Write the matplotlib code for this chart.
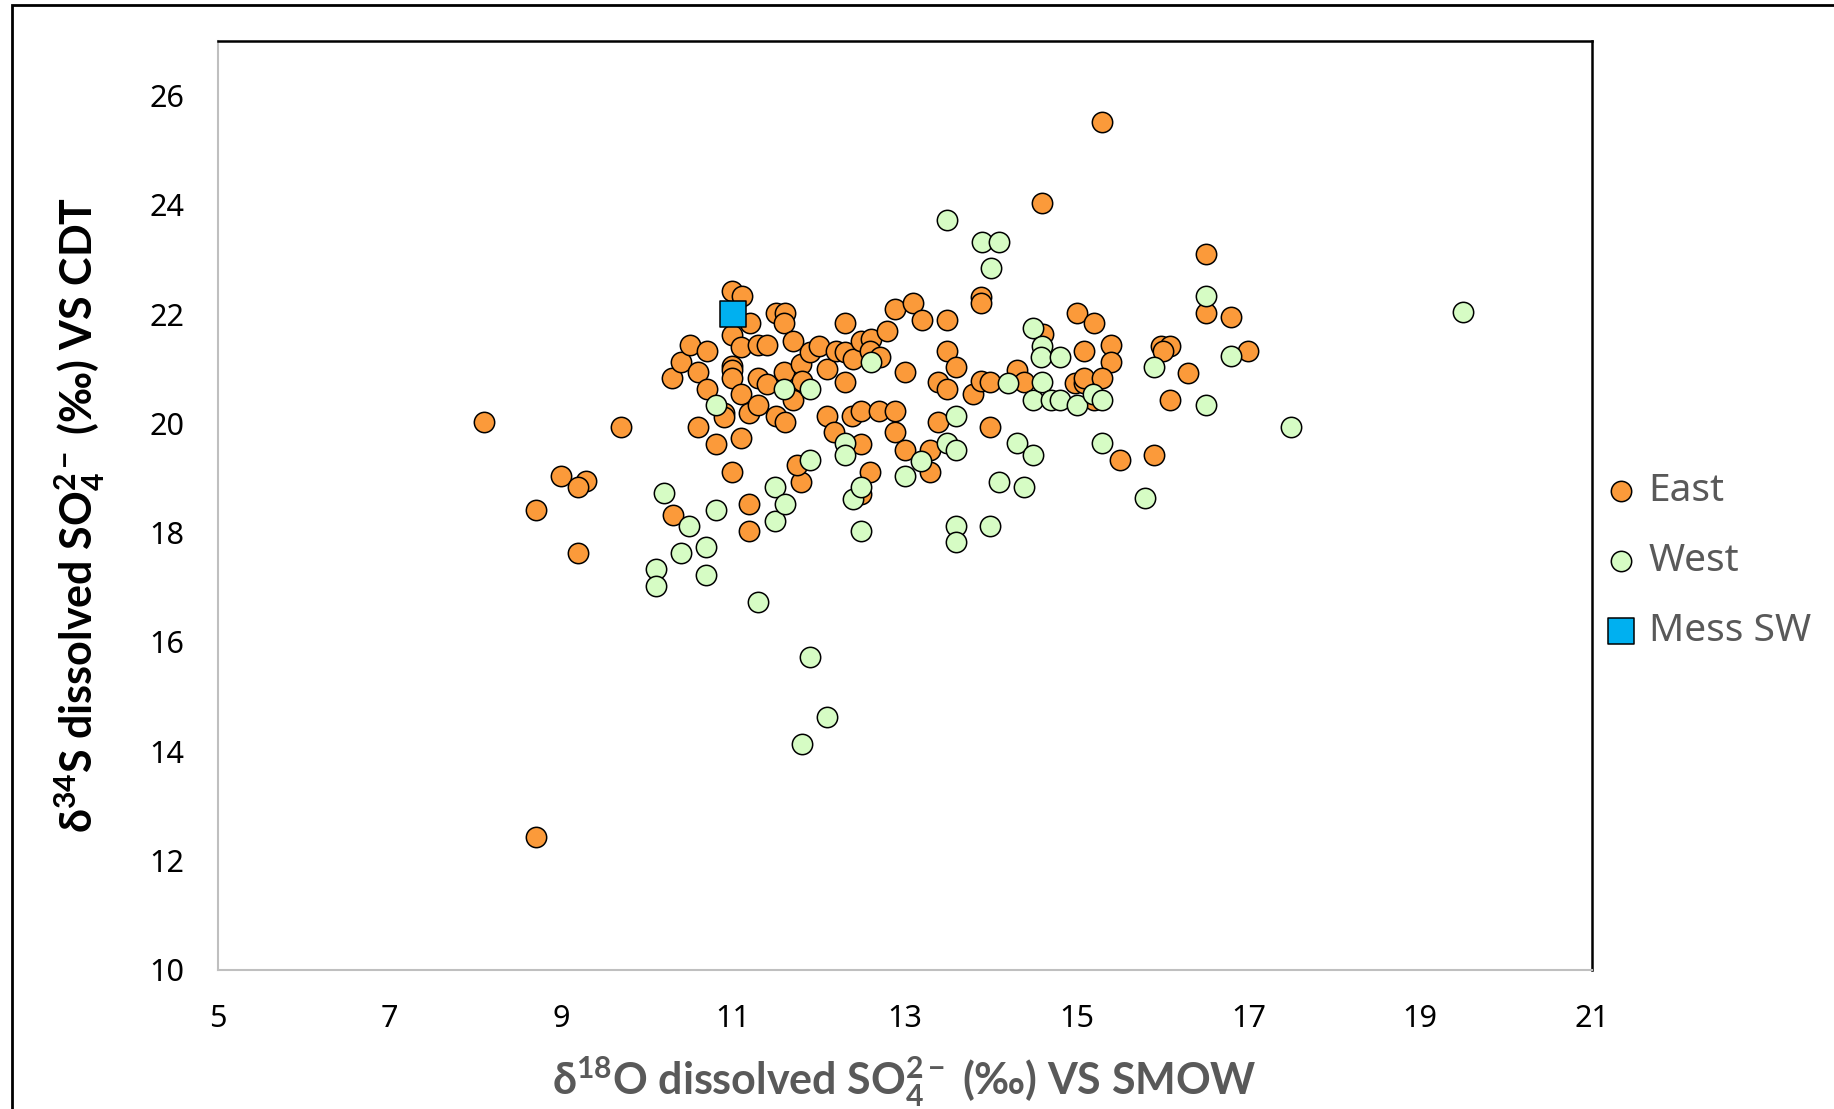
import matplotlib
matplotlib.use("Agg")
import matplotlib.pyplot as plt
from matplotlib.patches import Rectangle

plt.rcParams['font.family'] = ['Noto Sans', 'DejaVu Sans']
plt.rcParams['mathtext.fontset'] = 'custom'
plt.rcParams['mathtext.rm'] = 'Lato:bold'
plt.rcParams['mathtext.it'] = 'Lato:bold'
plt.rcParams['mathtext.bf'] = 'Lato:bold'
plt.rcParams['mathtext.default'] = 'bf'

# East samples: d18O (x), d34S (y)
east_x = [8.1, 8.7, 8.7, 9.0, 9.29, 9.2, 9.2, 9.69, 10.29, 10.39, 10.5, 10.59, 10.7, 10.7,
          10.3, 10.59, 10.8, 10.89, 10.89, 10.99, 11.1, 11.2, 11.5, 11.6, 11.59, 10.99,
          11.09, 11.29, 11.4, 10.99, 10.99, 10.99, 11.09, 11.09, 10.99, 11.29, 11.4, 11.19,
          11.29, 11.5, 11.6, 11.59, 11.7, 11.79, 11.7, 11.8, 11.89, 12.0, 12.09, 12.2, 12.3,
          12.3, 12.4, 12.49, 12.6, 12.59, 12.71, 12.79, 12.89, 13.09, 13.2, 13.49, 13.49,
          13.59, 12.3, 13.0, 13.39, 13.49, 13.79, 13.89, 13.99, 13.89, 13.89, 14.3, 14.39,
          12.09, 12.18, 12.38, 12.49, 12.7, 12.89, 12.89, 12.49, 13.0, 13.29, 13.29, 13.39,
          13.99, 12.49, 12.59, 11.79, 11.74, 11.19, 11.19, 14.6, 15.29, 16.5, 16.5, 16.8,
          17.0, 15.0, 15.2, 14.61, 15.09, 15.4, 15.4, 14.98, 15.09, 15.09, 15.3, 15.2,
          15.98, 16.09, 16.0, 16.29, 16.09, 15.5, 15.9]
east_y = [20.03, 18.42, 12.43, 19.03, 18.94, 18.83, 17.63, 19.93, 20.83, 21.13, 21.44, 20.94,
          21.33, 20.63, 18.33, 19.93, 19.62, 20.2, 20.11, 22.43, 22.34, 21.83, 22.03, 22.03,
          21.83, 21.62, 21.39, 21.44, 21.44, 21.06, 20.97, 20.83, 20.53, 19.73, 19.12, 20.84,
          20.72, 20.2, 20.33, 20.13, 20.02, 20.94, 21.51, 21.09, 20.42, 20.78, 21.3, 21.42,
          21.0, 21.33, 21.3, 21.83, 21.18, 21.51, 21.54, 21.33, 21.21, 21.7, 22.1, 22.2, 21.9,
          21.9, 21.33, 21.03, 20.75, 20.94, 20.75, 20.63, 20.53, 20.77, 20.75, 22.31, 22.21,
          20.97, 20.75, 20.13, 19.84, 20.13, 20.23, 20.23, 20.23, 19.84, 19.62, 19.52, 19.52,
          19.12, 20.02, 19.93, 18.71, 19.12, 18.92, 19.23, 18.53, 18.04, 24.03, 25.52, 23.1,
          22.03, 21.94, 21.33, 22.03, 21.83, 21.64, 21.33, 21.44, 21.12, 20.74, 20.74, 20.84,
          20.84, 20.42, 21.42, 21.42, 21.33, 20.93, 20.43, 19.33, 19.43]

# West samples
west_x = [10.1, 10.1, 10.2, 10.39, 10.49, 10.69, 10.69, 10.8, 10.8, 11.29, 11.49, 11.49, 11.6,
          11.59, 11.9, 11.89, 11.89, 11.8, 12.09, 12.3, 12.3, 12.4, 12.49, 12.49, 12.6, 13.0,
          13.19, 13.49, 13.59, 13.49, 13.59, 13.59, 13.59, 13.9, 14.1, 14.0, 13.99, 14.09,
          14.2, 14.3, 14.39, 14.49, 14.49, 14.49, 14.6, 14.59, 14.6, 14.7, 14.8, 14.8, 15.0,
          15.19, 15.3, 15.3, 15.8, 15.9, 16.5, 16.5, 16.8, 17.5, 19.5]
west_y = [17.33, 17.02, 18.73, 17.63, 18.13, 17.73, 17.23, 18.42, 20.33, 16.73, 18.83, 18.22,
          18.53, 20.63, 20.63, 19.33, 15.72, 14.13, 14.63, 19.64, 19.43, 18.62, 18.83, 18.04,
          21.13, 19.03, 19.32, 19.64, 19.52, 23.73, 20.13, 18.13, 17.83, 23.32, 23.32, 22.84,
          18.13, 18.92, 20.74, 19.64, 18.83, 19.43, 20.43, 21.74, 21.42, 21.22, 20.75, 20.43,
          21.22, 20.43, 20.33, 20.54, 20.43, 19.64, 18.63, 21.03, 22.34, 20.34, 21.23, 19.93,
          22.04]

# Mediterranean seawater
mess_x = [11.0]
mess_y = [22.0]

fig = plt.figure(figsize=(18.34, 11.09), dpi=100)
ax = fig.add_axes([0.1187, 0.1256, 0.7494, 0.8374])

ax.scatter(east_x, east_y, s=215, c='#FB9A3A', edgecolors='black', linewidths=1.1,
           label='East', zorder=3)
ax.scatter(west_x, west_y, s=215, c='#D6FCC4', edgecolors='black', linewidths=1.1,
           label='West', zorder=4)
ax.scatter(mess_x, mess_y, s=340, c='#00B0F0', marker='s', edgecolors='black',
           linewidths=1.1, label='Mess SW', zorder=5)

ax.set_xlim(5, 21)
ax.set_ylim(10, 27)
ax.set_xticks(range(5, 22, 2))
ax.set_yticks(range(10, 27, 2))
ax.tick_params(length=0, labelsize=22, colors='black')
ax.tick_params(axis='x', pad=25)
ax.tick_params(axis='y', pad=24)

for side in ['left', 'bottom']:
    ax.spines[side].set_color('#BFBFBF')
    ax.spines[side].set_linewidth(1.5)
for side in ['top', 'right']:
    ax.spines[side].set_color('black')
    ax.spines[side].set_linewidth(1.8)

ax.set_xlabel(r'δ$^{18}$O dissolved SO$_{4}^{2-}$ (‰) VS SMOW', fontsize=31,
              fontweight='bold', family='Lato', color='#595959', va='center')
ax.set_ylabel(r'δ$^{34}$S dissolved SO$_{4}^{2-}$ (‰) VS CDT', fontsize=31,
              fontweight='bold', family='Lato', color='black', va='center')
ax.xaxis.set_label_coords(0.5, -0.121)
ax.yaxis.set_label_coords(-0.1001, 0.49)

leg = ax.legend(loc='center left', bbox_to_anchor=(1.0066, 0.44), frameon=False,
                fontsize=28, labelspacing=0.82, handlelength=1.0, handletextpad=0.22,
                borderaxespad=0, borderpad=0)
for t in leg.get_texts():
    t.set_color('#595959')

fig.add_artist(Rectangle((12 / 1834, -0.1), 1.2, 1.1 - 5 / 1109, transform=fig.transFigure,
                         fill=False, edgecolor='black', linewidth=2))

fig.savefig('out.png', dpi=100)
